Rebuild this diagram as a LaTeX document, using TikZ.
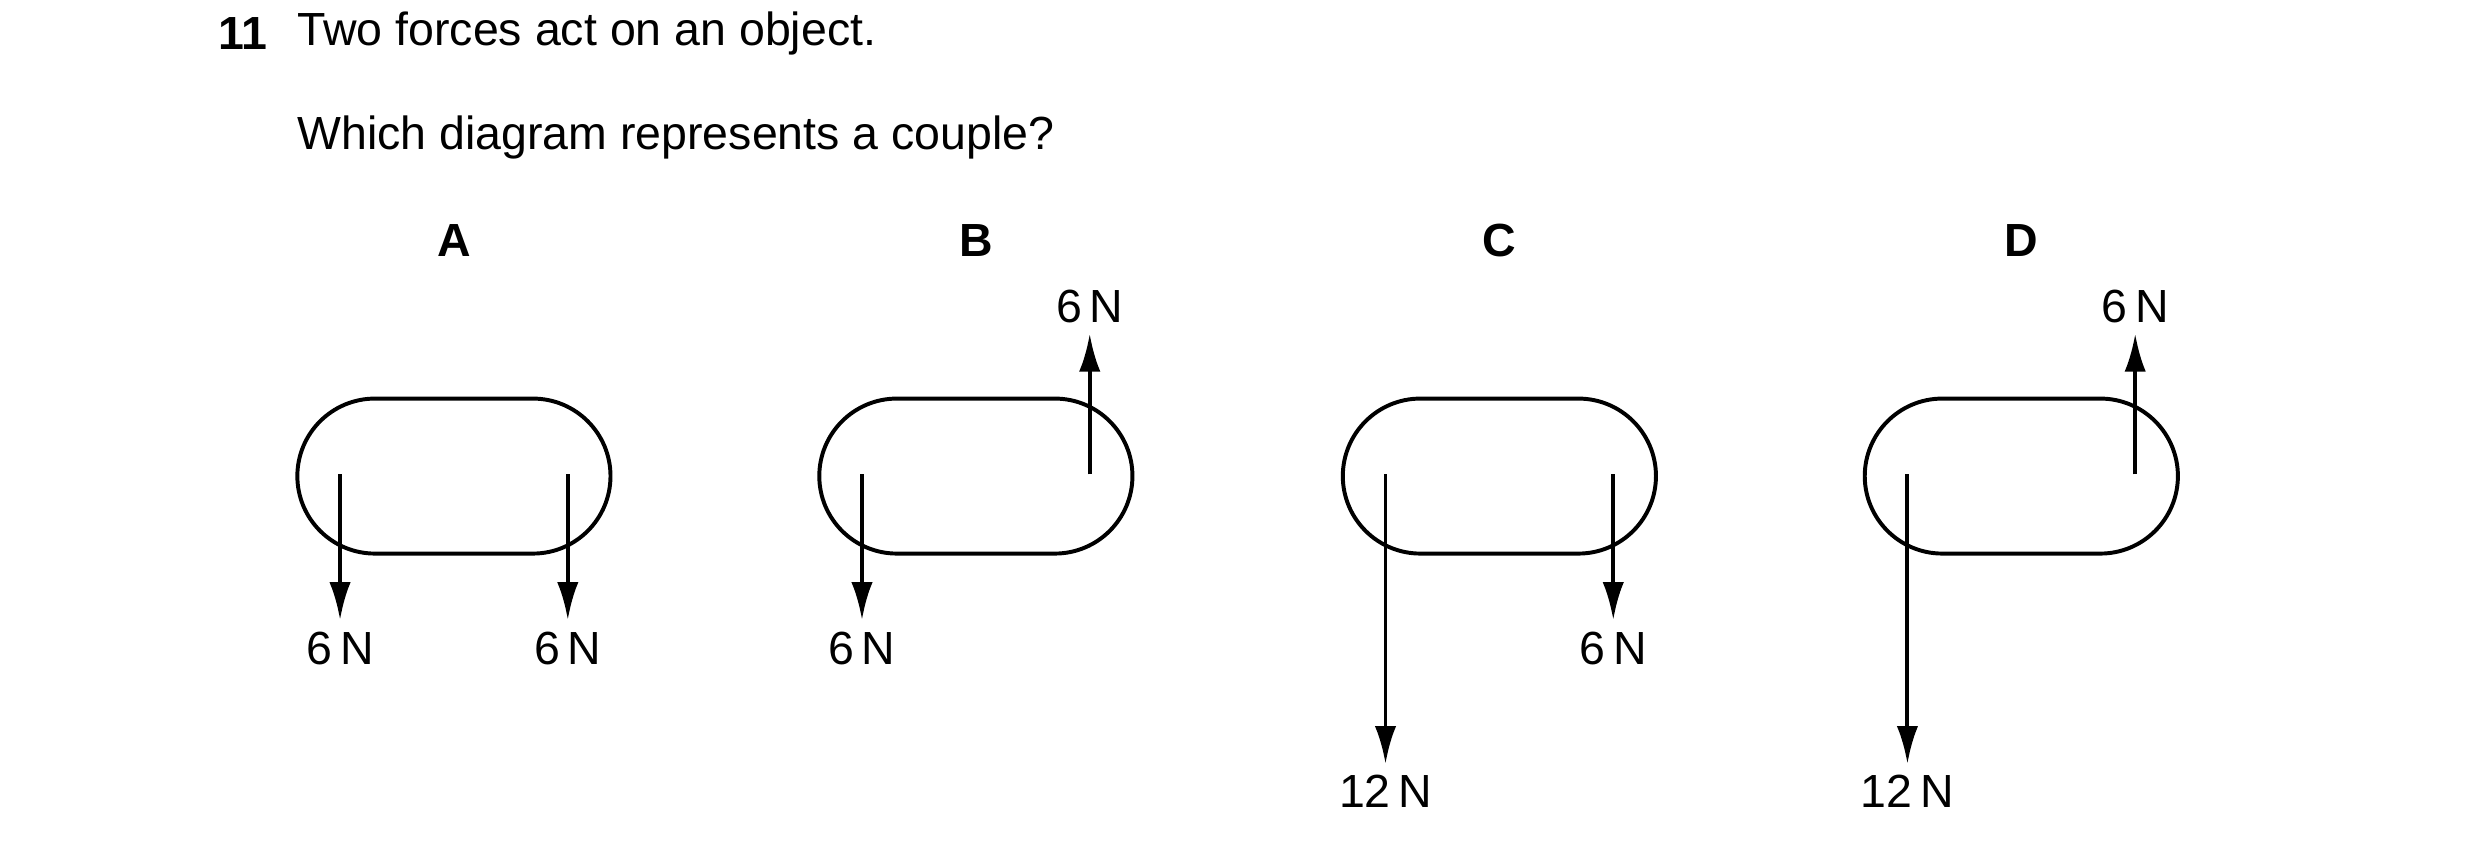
\documentclass[tikz,border=0pt]{standalone}
\usepackage{fontspec}
\setmainfont{Liberation Sans}
\usetikzlibrary{arrows.meta,positioning}
\tikzset{
  body/.style={line width=0.95pt, rounded corners=0.657cm},
  force/.style={line width=0.95pt, -{Latex[length=0.32cm,width=0.18cm]}},
  lbl/.style={font=\fontsize{11.2}{13}\selectfont, inner sep=1pt},
  head/.style={font=\fontsize{11.2}{13}\selectfont\bfseries}
}
\begin{document}
\begin{tikzpicture}[x=0.0134cm, y=-0.0134cm]
    \useasboundingbox (0, 0) rectangle (1568, 535);

    \node[head, anchor=west] (num) at (129, 21) {11};
    \node[lbl, anchor=west] (q1) at (185, 21) {Two forces act on an object.};
    \node[lbl, anchor=west] (q2) at (185, 87) {Which diagram represents a couple?};

    % A
    \node[head] (A) at (287, 152) {A};
    \draw[body] (188, 252) rectangle (386, 350);
    \coordinate (a1) at (215, 300);
    \coordinate (a2) at (359, 300);
    \node[lbl] (la1) at (215, 410) {6\,N};
    \node[lbl] (la2) at (359, 410) {6\,N};
    \draw[force] (a1) -- (215, 392);
    \draw[force] (a2) -- (359, 392);

    % B
    \node[head] (B) at (617, 152) {B};
    \draw[body] (518, 252) rectangle (716, 350);
    \coordinate (b1) at (545, 300);
    \coordinate (b2) at (689, 300);
    \node[lbl] (lb1) at (545, 410) {6\,N};
    \node[lbl] (lb2) at (689, 194) {6\,N};
    \draw[force] (b1) -- (545, 392);
    \draw[force] (b2) -- (689, 211);

    % C
    \node[head] (C) at (948, 152) {C};
    \draw[body] (849, 252) rectangle (1047, 350);
    \coordinate (c1) at (876, 300);
    \coordinate (c2) at (1020, 300);
    \node[lbl] (lc1) at (876, 500) {12\,N};
    \node[lbl] (lc2) at (1020, 410) {6\,N};
    \draw[force] (c1) -- (876, 483);
    \draw[force] (c2) -- (1020, 392);

    % D
    \node[head] (D) at (1278, 152) {D};
    \draw[body] (1179, 252) rectangle (1377, 350);
    \coordinate (d1) at (1206, 300);
    \coordinate (d2) at (1350, 300);
    \node[lbl] (ld1) at (1206, 500) {12\,N};
    \node[lbl] (ld2) at (1350, 194) {6\,N};
    \draw[force] (d1) -- (1206, 483);
    \draw[force] (d2) -- (1350, 211);
\end{tikzpicture}
\end{document}
